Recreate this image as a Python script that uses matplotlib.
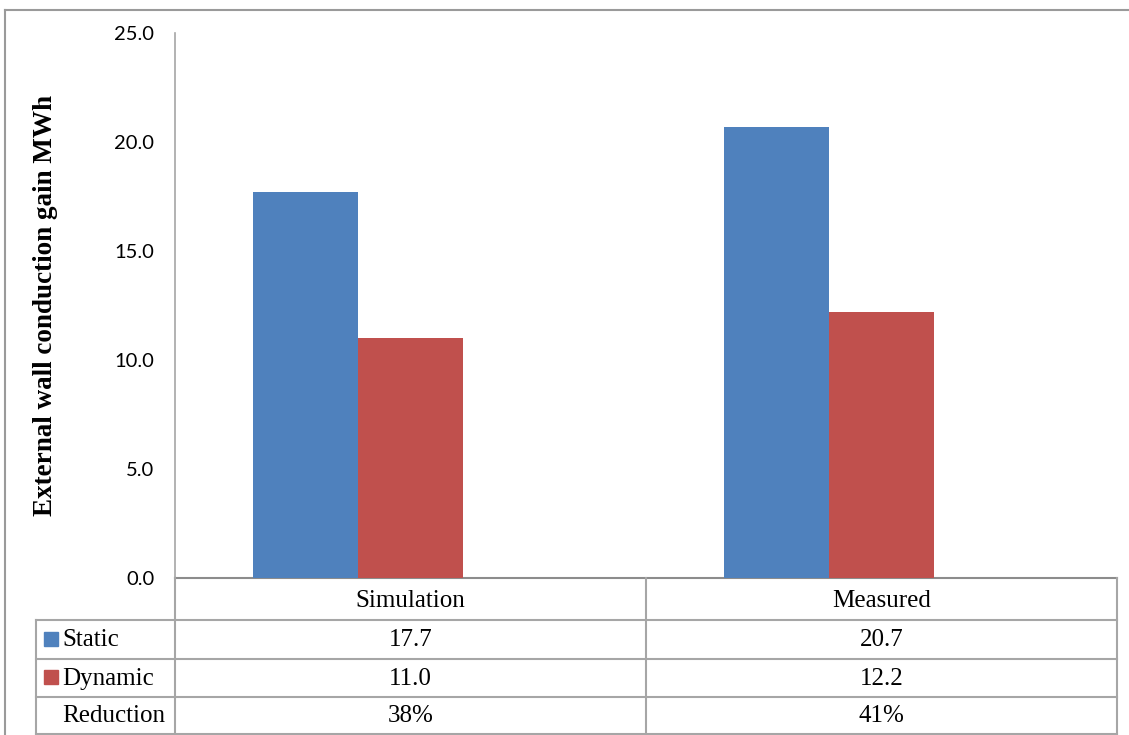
import matplotlib
matplotlib.use("Agg")
import matplotlib.pyplot as plt
from matplotlib.patches import Rectangle

# Data
categories = ["Simulation", "Measured"]
static_vals = [17.7, 20.7]
dynamic_vals = [11.0, 12.2]
reduction_labels = ["38%", "41%"]
series_names = ["Static", "Dynamic", "Reduction"]
yticks = [0.0, 5.0, 10.0, 15.0, 20.0, 25.0]

blue = "#4F81BD"
red = "#C0504D"
grid_col = "#A6A6A6"

W, H = 1129, 735
fig = plt.figure(figsize=(W / 100, H / 100), dpi=100)

# Plot area (pixel bounds converted to figure fractions)
L, R, T, B = 175, 1117, 33, 578
ax = fig.add_axes([L / W, 1 - B / H, (R - L) / W, (B - T) / H])

bw = 0.223
x = list(range(len(categories)))
ax.bar([xi - bw for xi in x], static_vals, width=bw, color=blue, zorder=3)
ax.bar(x, dynamic_vals, width=bw, color=red, zorder=3)

ax.set_xlim(-0.5, len(categories) - 0.5)
ax.set_ylim(0, 25)
ax.set_yticks(yticks)
ax.set_yticklabels([f"{v:.1f}" for v in yticks], fontfamily="Lato", fontsize=14.5)
ax.tick_params(axis="y", length=0, pad=15)
ax.set_xticks([])
for s in ("top", "right"):
    ax.spines[s].set_visible(False)
ax.spines["left"].set_color(grid_col)
ax.spines["left"].set_linewidth(1.2)
ax.spines["bottom"].set_color("#8C8C8C")
ax.spines["bottom"].set_linewidth(1.5)

# Overlay in pixel coordinates for the frame and data table
ov = fig.add_axes([0, 0, 1, 1], zorder=5)
ov.set_xlim(0, W)
ov.set_ylim(H, 0)
ov.axis("off")
ov.patch.set_alpha(0)

# outer chart frame
ov.plot([5, W], [10, 10], color="#9A9A9A", lw=1.5)
ov.plot([5, 5], [10, H], color="#9A9A9A", lw=1.5)

ov.text(46, (T + B) / 2, "External wall conduction gain MWh", rotation=90,
        ha="center", va="center", fontfamily="Liberation Serif",
        fontweight="bold", fontsize=19.5)

# table grid
rows_y = [578, 620, 659, 697, 734]
col_x = [36, 175, 646, 1117]
lc = grid_col
for y in rows_y[1:]:
    ov.plot([col_x[0], col_x[-1]], [y, y], color=lc, lw=1.5)
ov.plot([col_x[0], col_x[0]], [rows_y[1], rows_y[-1]], color=lc, lw=1.5)
ov.plot([col_x[1], col_x[1]], [B, rows_y[-1]], color=lc, lw=1.5)
ov.plot([col_x[2], col_x[2]], [B, rows_y[-1]], color=lc, lw=1.5)
ov.plot([col_x[3], col_x[3]], [B, rows_y[-1]], color=lc, lw=1.5)

tfont = dict(fontfamily="Liberation Serif", fontsize=18, va="center")
centers = [(col_x[1] + col_x[2]) / 2, (col_x[2] + col_x[3]) / 2]
for c, name in zip(centers, categories):
    ov.text(c, (rows_y[0] + rows_y[1]) / 2 + 2, name, ha="center", **tfont)

row_vals = [
    [f"{v:.1f}" for v in static_vals],
    [f"{v:.1f}" for v in dynamic_vals],
    reduction_labels,
]
swatches = [blue, red, None]
for i, (name, vals, sw) in enumerate(zip(series_names, row_vals, swatches)):
    yc = (rows_y[i + 1] + rows_y[i + 2]) / 2 + 1
    if sw is not None:
        ov.add_patch(Rectangle((44, yc - 9), 14, 14, color=sw))
    ov.text(62, yc, name, ha="left", **tfont)
    for c, v in zip(centers, vals):
        ov.text(c, yc, v, ha="center", **tfont)

fig.savefig("out.png", dpi=100)
